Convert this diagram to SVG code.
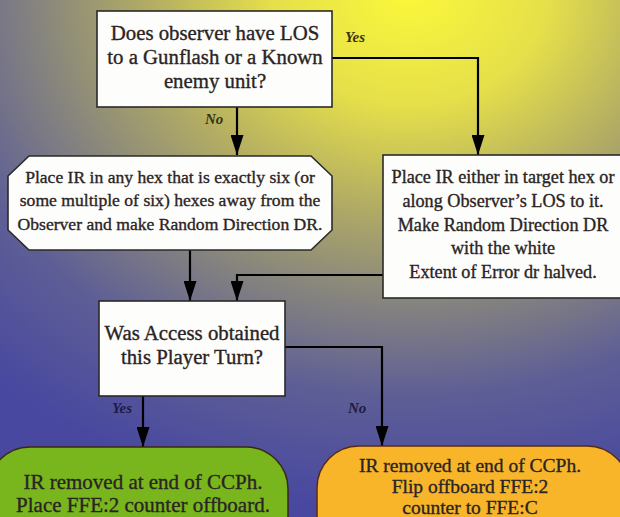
<svg xmlns="http://www.w3.org/2000/svg" width="620" height="517" viewBox="0 0 620 517">
<defs>
<radialGradient id="bg" gradientUnits="userSpaceOnUse" cx="410" cy="-10" r="520" gradientTransform="translate(410,-10) scale(1.2,1) translate(-410,10)">
<stop offset="0" stop-color="#fbf83a"/>
<stop offset="0.22" stop-color="#e6e04a"/>
<stop offset="0.42" stop-color="#b2ac64"/>
<stop offset="0.6" stop-color="#86847e"/>
<stop offset="0.78" stop-color="#5e5e96"/>
<stop offset="1" stop-color="#4848a0"/>
</radialGradient>
<marker id="ah" viewBox="0 0 20 13" markerWidth="20" markerHeight="13" refX="20" refY="6.5" orient="auto" markerUnits="userSpaceOnUse">
<path d="M0,0 L20,6.5 L0,13 Z" fill="#000"/>
</marker>
<style>
.box{fill:#fdfdfb;stroke:#2a2a2a;stroke-width:1.6}
.t{font-family:"Liberation Serif","Times New Roman",serif;fill:#2a2424;stroke:#2a2424;stroke-width:0.35;text-anchor:middle}
.lab{font-family:"Liberation Serif","Times New Roman",serif;font-style:italic;font-weight:bold;font-size:15px}
.c{fill:none;stroke:#000;stroke-width:2.2;marker-end:url(#ah)}
</style>
</defs>
<rect x="0" y="0" width="620" height="517" fill="url(#bg)"/>

<g id="connectors">
<path class="c" d="M332,58 H478 V155"/>
<path class="c" d="M237,107 V155"/>
<path class="c" d="M190,250 V301"/>
<path class="c" d="M383,275 H237 V301"/>
<path class="c" d="M285,347 H382 V446"/>
<path class="c" d="M143,396 V447"/>
<text class="lab" x="345" y="42" fill="#3a3212">Yes</text>
<text class="lab" x="205" y="124" fill="#3a3212">No</text>
<text class="lab" x="112" y="413" fill="#1c1c44">Yes</text>
<text class="lab" x="348" y="413" fill="#1c1c44">No</text>
</g>

<g id="q1">
<rect class="box" x="97" y="11" width="235" height="96"/>
<text class="t" font-size="20.8" x="215" y="40">Does observer have LOS</text>
<text class="t" font-size="20.8" x="215" y="64">to a Gunflash or a Known</text>
<text class="t" font-size="20.8" x="215" y="88">enemy unit?</text>
</g>

<g id="noLOS">
<path class="box" d="M29,156 H311 L332,176 V230 L311,250 H29 L8,230 V176 Z"/>
<text class="t" font-size="17.6" x="170" y="183">Place IR in any hex that is exactly six (or</text>
<text class="t" font-size="17.6" x="170" y="206">some multiple of six) hexes away from the</text>
<text class="t" font-size="17.6" x="170" y="230">Observer and make Random Direction DR.</text>
</g>

<g id="yesLOS">
<rect class="box" x="383" y="155" width="245" height="143"/>
<text class="t" font-size="18.2" x="503" y="183">Place IR either in target hex or</text>
<text class="t" font-size="18.2" x="503" y="207">along Observer’s LOS to it.</text>
<text class="t" font-size="18.2" x="503" y="231">Make Random Direction DR</text>
<text class="t" font-size="18.2" x="503" y="254">with the white</text>
<text class="t" font-size="18.2" x="503" y="278">Extent of Error dr halved.</text>
</g>

<g id="q2">
<rect class="box" x="99" y="301" width="186" height="95"/>
<text class="t" font-size="20.8" x="192" y="340">Was Access obtained</text>
<text class="t" font-size="20.8" x="192" y="364">this Player Turn?</text>
</g>

<g id="yesAccess">
<rect x="-12" y="447" width="300" height="110" rx="42" ry="42" fill="#79b51d" stroke="#3a2a10" stroke-width="1.5"/>
<text class="t" font-size="21" x="143" y="489" fill="#1e2410" stroke="#1e2410">IR removed at end of CCPh.</text>
<text class="t" font-size="21" x="143" y="512" fill="#1e2410" stroke="#1e2410">Place FFE:2 counter offboard.</text>
</g>

<g id="noAccess">
<rect x="317" y="446" width="312" height="120" rx="42" ry="42" fill="#f8b52a" stroke="#5a2a10" stroke-width="1.5"/>
<text class="t" font-size="19.5" x="470" y="472" fill="#2a2010" stroke="#2a2010">IR removed at end of CCPh.</text>
<text class="t" font-size="19.5" x="470" y="493" fill="#2a2010" stroke="#2a2010">Flip offboard FFE:2</text>
<text class="t" font-size="19.5" x="470" y="514" fill="#2a2010" stroke="#2a2010">counter to FFE:C</text>
</g>
</svg>
